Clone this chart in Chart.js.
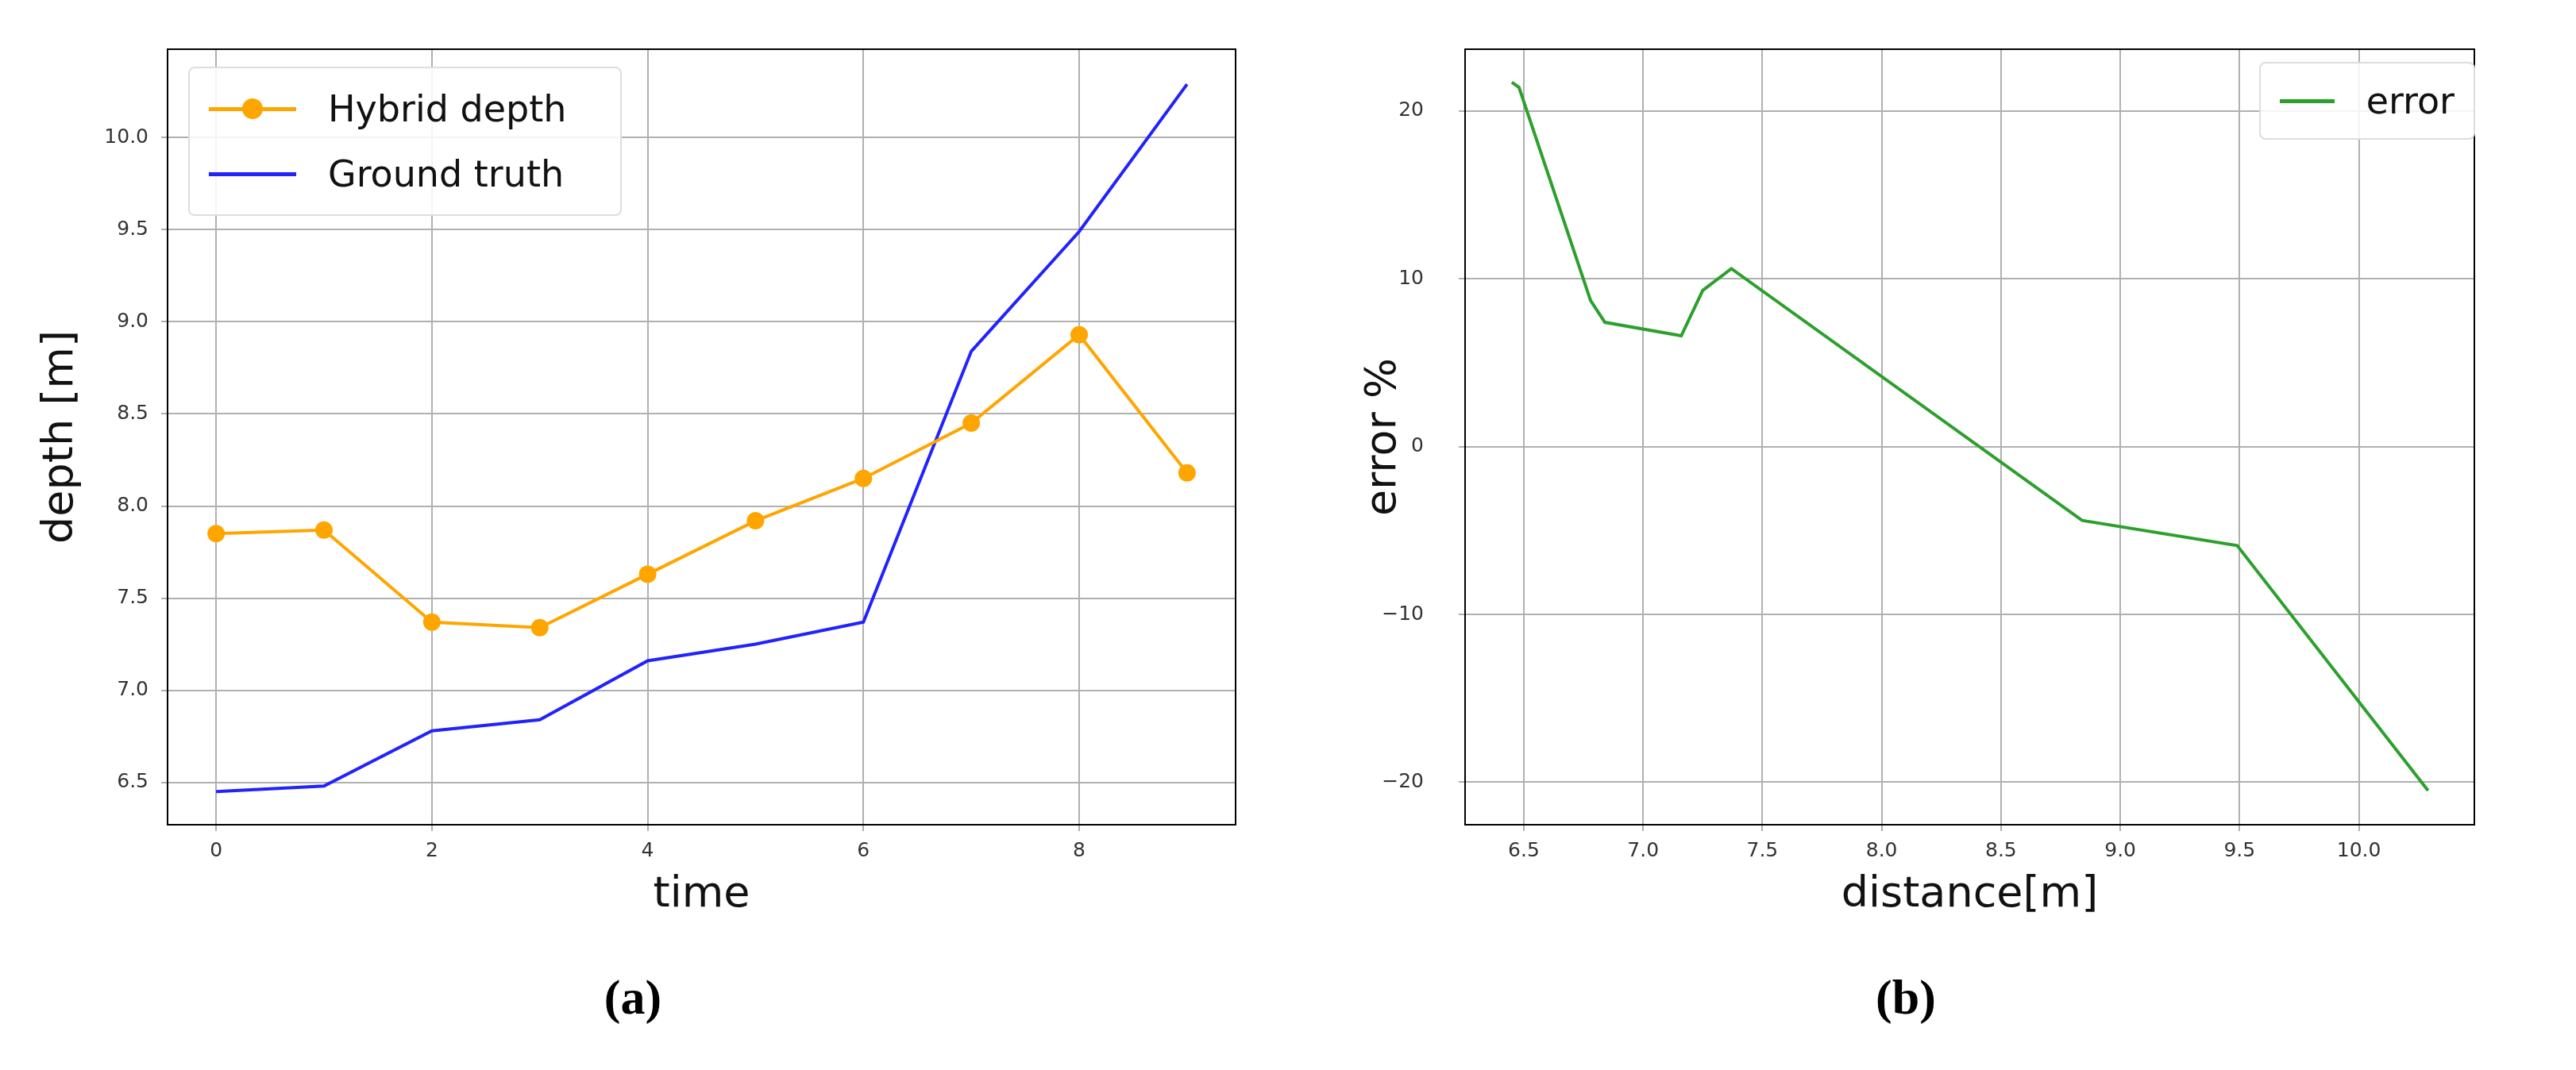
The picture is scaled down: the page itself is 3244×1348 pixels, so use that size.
<!DOCTYPE html>
<html><head><meta charset="utf-8">
<script src="https://cdn.jsdelivr.net/npm/chart.js@4"></script>
<style>
body{margin:0;width:3244px;height:1348px;background:#fff;position:relative;overflow:hidden;font-family:"DejaVu Sans",sans-serif}
.wrap{position:absolute;top:0;width:1622px;height:1160px}
.cap{position:absolute;top:1221px;font:bold 62px "Liberation Serif",serif;transform:translateX(-50%)}
.leg{position:absolute;background:rgba(255,255,255,0.85);border:2px solid #ddd;border-radius:8px;font-size:46px;color:#111;padding:10px 24px 10px 24px}
.row{display:flex;align-items:center;height:82px}
.ln{display:inline-block;width:110px;height:5px;margin-right:40px;position:relative}
.dot{position:absolute;left:42px;top:-11px;width:26px;height:26px;border-radius:50%;background:orange}
</style></head><body>
<div class="wrap" style="left:0"><canvas id="c1" width="1622" height="1160"></canvas></div>
<div class="wrap" style="left:1622px"><canvas id="c2" width="1622" height="1160"></canvas></div>
<div class="leg" style="left:237px;top:84px;width:494px">
 <div class="row"><span class="ln" style="background:orange"><span class="dot"></span></span>Hybrid depth</div>
 <div class="row"><span class="ln" style="background:#2222ff"></span>Ground truth</div>
</div>
<div class="leg" style="left:2845px;top:78px;width:220px;padding-top:6px;padding-bottom:6px">
 <div class="row"><span class="ln" style="background:#2ca02c"></span>error</div>
</div>
<div class="cap" style="left:797px">(a)</div>
<div class="cap" style="left:2400px">(b)</div>
<script>
const time=[0,1,2,3,4,5,6,7,8,9];
const hybridDepth=[7.85,7.87,7.37,7.34,7.63,7.92,8.15,8.45,8.93,8.18];
const groundTruth=[6.45,6.48,6.78,6.84,7.16,7.25,7.37,8.84,9.49,10.29];
const errorPct=[21.7,21.4,8.7,7.4,6.6,9.3,10.6,-4.4,-5.9,-20.5];
const xTicksA=[0,2,4,6,8];
const yTicksA=[6.5,7.0,7.5,8.0,8.5,9.0,9.5,10.0];
const xTicksB=[6.5,7.0,7.5,8.0,8.5,9.0,9.5,10.0];
const yTicksB=[-20,-10,0,10,20];
Chart.defaults.animation=false;
const tickFont={family:"DejaVu Sans",size:25};
const grid={color:'#b0b0b0',lineWidth:2};
const frame={id:'frame',afterDraw(c){const a=c.chartArea,x=c.ctx;x.save();x.strokeStyle='#000';x.lineWidth=2;x.strokeRect(a.left,a.top,a.right-a.left,a.bottom-a.top);x.restore();}};
function fix(vals){return s=>{s.ticks=vals.map(v=>({value:v}));};}
function mk(id,datasets,xr,yr,xt,yt,xl,yl,xdec,ydec,o){
 new Chart(document.getElementById(id),{type:'line',data:{datasets},plugins:[frame],
 options:{responsive:false,parsing:false,
  layout:{padding:{top:62,right:o.padR,left:0,bottom:0}},
  plugins:{legend:{display:false},tooltip:{enabled:false}},
  scales:{
   x:{type:'linear',min:xr[0],max:xr[1],afterBuildTicks:fix(xt),afterFit:s=>{s.height=121},
     grid,border:{color:'#000',width:2},
     ticks:{font:tickFont,color:'#333',padding:10,callback:v=>xdec?v.toFixed(1):v},
     title:{display:true,text:xl,font:{family:"DejaVu Sans",size:54},color:'#111',padding:{top:0,bottom:0}}},
   y:{type:'linear',min:yr[0],max:yr[1],afterBuildTicks:fix(yt),afterFit:s=>{s.width=o.yw},
     grid,border:{color:'#000',width:2},
     ticks:{font:tickFont,color:'#333',padding:o.tp,callback:v=>ydec?v.toFixed(1):(v<0?'\u2212'+(-v):v)},
     title:{display:true,text:yl,font:{family:"DejaVu Sans",size:54},color:'#111',padding:{top:o.tt,bottom:0}}}
  }}});
}
mk('c1',[
 {data:time.map((t,i)=>({x:t,y:hybridDepth[i]})),borderColor:'orange',backgroundColor:'orange',borderWidth:4,pointRadius:11,pointBorderWidth:0,tension:0},
 {data:time.map((t,i)=>({x:t,y:groundTruth[i]})),borderColor:'#2222ff',borderWidth:4,pointRadius:0,tension:0}
],[-0.45,9.45],[6.27,10.48],xTicksA,yTicksA,'time','depth [m]',false,true,{padR:66,yw:211,tp:16,tt:45});
mk('c2',[
 {data:groundTruth.map((g,i)=>({x:g,y:errorPct[i]})),borderColor:'#2ca02c',borderWidth:4,pointRadius:0,tension:0}
],[6.254,10.484],[-22.53,23.67],xTicksB,yTicksB,'distance[m]','error %',true,false,{padR:128,yw:223,tp:44,tt:89});
</script>
</body></html>
